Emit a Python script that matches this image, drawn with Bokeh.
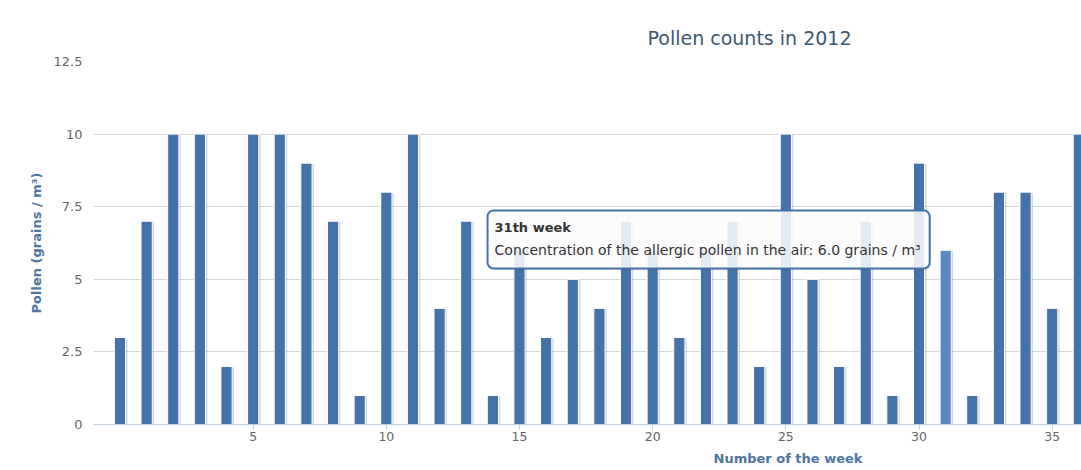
from bokeh.plotting import figure
from bokeh.models import Range1d, Title, Label, BoxAnnotation, FixedTicker
from bokeh.embed import file_html
from bokeh.resources import INLINE

# ---- data ----
weeks = list(range(37))
pollen = [3, 7, 10, 10, 2, 10, 10, 9, 7, 1, 8, 10, 4, 7, 1, 6, 3, 5, 4, 7,
          6, 3, 6, 7, 2, 10, 5, 2, 7, 1, 9, 6, 1, 8, 8, 4, 10]
highlight_week = 31
x_ticks = [5, 10, 15, 20, 25, 30, 35]
y_ticks = [0, 2.5, 5, 7.5, 10, 12.5]
y_tick_labels = ["0", "2.5", "5", "7.5", "10", "12.5"]
title_text = "Pollen counts in 2012"
x_label = "Number of the week"
y_label = "Pollen (grains / m³)"
tooltip_title = f"{highlight_week}th week"
tooltip_value = pollen[weeks.index(highlight_week)]
tooltip_text = f"Concentration of the allergic pollen in the air: {tooltip_value:.1f} grains / m³"

FONT = "DejaVu Sans"
BAR = "#4572A7"
BAR_HI = "#5B88BF"

p = figure(width=1081, height=470, output_backend="svg", toolbar_location=None,
           x_range=Range1d(-0.995, 36.1), y_range=Range1d(0, 12.5),
           min_border_left=93, min_border_right=0, min_border_top=61, min_border_bottom=46)
p.outline_line_color = None
p.background_fill_color = "white"
p.border_fill_color = "white"

# title
p.title.text = title_text
p.title.align = "left"
p.title.offset = 554
p.title.text_font = FONT
p.title.text_font_size = "19px"
p.title.text_font_style = "normal"
p.title.text_color = "#3E576F"
p.title.standoff = 25

# shadows and bars
shadow_x = [w + 0.07 for w in weeks]
shadow_top = [v - 0.03 for v in pollen]
p.vbar(x=shadow_x, top=shadow_top, width=0.42, fill_color="black", fill_alpha=0.16,
       line_color=None)
colors = [BAR_HI if w == highlight_week else BAR for w in weeks]
p.vbar(x=weeks, top=pollen, width=0.42, fill_color=colors, line_color="white", line_width=1)

# axes
p.xgrid.grid_line_color = None
p.ygrid.grid_line_color = "#D8D8D8"
p.ygrid.ticker = FixedTicker(ticks=y_ticks)

xa = p.xaxis[0]
xa.ticker = FixedTicker(ticks=x_ticks)
xa.axis_line_color = "#C0D0E0"
xa.major_tick_line_color = "#C0D0E0"
xa.major_tick_out = 5
xa.major_tick_in = 0
xa.minor_tick_line_color = None
xa.major_label_text_font = FONT
xa.major_label_text_font_size = "12.5px"
xa.major_label_text_color = "#666666"
xa.major_label_standoff = 2

ya = p.yaxis[0]
ya.ticker = FixedTicker(ticks=y_ticks)
ya.major_label_overrides = {t: l for t, l in zip(y_ticks, y_tick_labels)}
ya.axis_line_color = None
ya.major_tick_line_color = None
ya.minor_tick_line_color = None
ya.major_label_text_font = FONT
ya.major_label_text_font_size = "13px"
ya.major_label_text_color = "#666666"
ya.major_label_standoff = 5
ya.axis_label = y_label
ya.axis_label_text_font = FONT
ya.axis_label_text_font_size = "13px"
ya.axis_label_text_font_style = "bold"
ya.axis_label_text_color = "#4D759E"
ya.axis_label_standoff = 7

# x-axis title, offset to the right as in the original
xt = Title(text=x_label, align="left", offset=620, text_font=FONT, text_font_size="13px",
           text_font_style="bold", text_color="#4D759E", standoff=10)
p.add_layout(xt, "below")

# tooltip
tt_left, tt_right, tt_bottom, tt_top = 13.80, 30.40, 5.37, 7.37
p.add_layout(BoxAnnotation(left=tt_left + 0.06, right=tt_right + 0.06,
                           bottom=tt_bottom - 0.06, top=tt_top - 0.06,
                           fill_color="black", fill_alpha=0.08, line_color=None,
                           border_radius=6, level="overlay"))
p.add_layout(BoxAnnotation(left=tt_left, right=tt_right, bottom=tt_bottom, top=tt_top,
                           fill_color="white", fill_alpha=0.86, line_color=BAR,
                           line_alpha=1.0, line_width=2, border_radius=6, level="overlay"))
p.add_layout(Label(x=tt_left, y=6.78, x_offset=7, text=tooltip_title, text_font=FONT,
                   text_font_size="13px", text_font_style="bold", text_color="#333333",
                   text_baseline="middle", level="overlay"))
p.add_layout(Label(x=tt_left, y=6.0, x_offset=7, text=tooltip_text, text_font=FONT,
                   text_font_size="14px", text_color="#333333",
                   text_baseline="middle", level="overlay"))

open("out.html", "w").write(file_html(p, INLINE))
